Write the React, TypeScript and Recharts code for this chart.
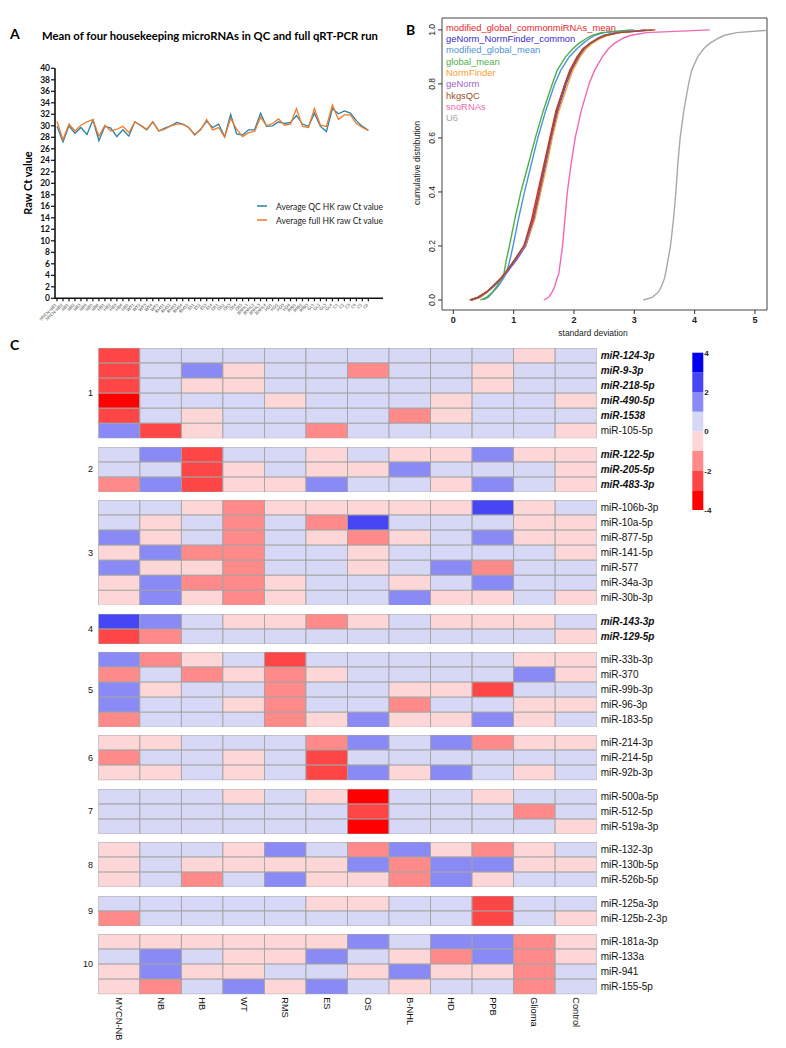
import React from 'react';
import {
  LineChart, Line, XAxis, YAxis, ScatterChart, Scatter, BarChart, Bar, ReferenceArea,
} from 'recharts';

// ---------------- Panel A data ----------------
const sampleLabels = [
  'MYCN-NB1', 'MYCN-NB2', 'NB1', 'NB2', 'NB3', 'NB4', 'NB5', 'NB6', 'HB1', 'HB2', 'HB3', 'HB4', 'HB5',
  'WT1', 'WT2', 'WT3', 'WT4', 'WT5', 'RMS1', 'RMS2', 'RMS3', 'RMS4', 'RMS5', 'ES1', 'ES2', 'ES3', 'ES4',
  'OS1', 'OS2', 'OS3', 'OS4', 'OS5', 'BNHL1', 'BNHL2', 'BNHL3', 'BNHL4', 'HD1', 'HD2', 'HD3', 'HD4',
  'PPB1', 'PPB2', 'PPB3', 'GL1', 'GL2', 'GL3', 'GL4', 'C1', 'C2', 'C3', 'C4', 'C5', 'C6',
];
const qcHK = [
  29.9, 27.2, 30.0, 28.7, 29.7, 28.5, 31.0, 27.4, 29.9, 29.6, 28.1, 29.3, 28.2, 30.7, 30.0, 29.3, 30.7,
  29.1, 29.6, 30.0, 30.6, 30.3, 29.7, 28.4, 29.4, 30.8, 29.7, 30.3, 28.1, 32.0, 28.6, 28.4, 29.3, 29.3,
  32.2, 29.9, 30.0, 30.7, 30.4, 30.6, 31.8, 30.3, 29.9, 32.2, 29.9, 29.0, 33.0, 32.1, 32.6, 32.2, 30.9,
  29.9, 29.2,
];
const fullHK = [
  30.8, 27.6, 30.3, 29.1, 30.1, 30.7, 31.1, 28.2, 30.1, 29.1, 29.4, 29.9, 28.8, 30.7, 30.1, 29.4, 30.7,
  29.1, 29.4, 30.0, 30.3, 30.3, 29.7, 28.5, 29.3, 31.1, 29.3, 29.7, 28.0, 31.3, 29.4, 28.1, 28.8, 29.0,
  31.5, 30.0, 30.4, 31.2, 30.1, 30.3, 33.0, 29.9, 29.7, 33.0, 30.1, 29.9, 33.6, 31.1, 31.9, 31.9, 30.4,
  29.7, 29.2,
];
const rawCtTicks = [0, 2, 4, 6, 8, 10, 12, 14, 16, 18, 20, 22, 24, 26, 28, 30, 32, 34, 36, 38, 40];
const hkSeriesNames = ['Average QC HK raw Ct value', 'Average full HK raw Ct value'];
const hkSeriesColors = ['#2a80a8', '#f07a2a'];

// ---------------- Panel B data ----------------
const ecdfProbs = [0, 0.01, 0.03, 0.05, 0.08, 0.1, 0.15, 0.2, 0.3, 0.4, 0.5, 0.6, 0.7, 0.8, 0.85, 0.9, 0.93, 0.95, 0.97, 0.98, 0.99, 1.0];
const sdModGlobalCommon = [0.27, 0.4, 0.55, 0.65, 0.78, 0.86, 1.02, 1.17, 1.3, 1.4, 1.5, 1.6, 1.7, 1.85, 1.93, 2.05, 2.15, 2.28, 2.42, 2.55, 2.75, 3.3];
const sdGeNormNormFinder = [0.3, 0.42, 0.56, 0.66, 0.8, 0.88, 1.05, 1.2, 1.34, 1.44, 1.53, 1.63, 1.73, 1.87, 1.96, 2.08, 2.17, 2.27, 2.42, 2.52, 2.72, 3.2];
const sdModGlobal = [0.5, 0.58, 0.66, 0.74, 0.83, 0.88, 0.94, 0.99, 1.08, 1.18, 1.29, 1.4, 1.53, 1.68, 1.78, 1.92, 2.05, 2.15, 2.27, 2.35, 2.5, 3.0];
const sdGlobal = [0.45, 0.55, 0.65, 0.72, 0.8, 0.84, 0.88, 0.93, 1.02, 1.12, 1.24, 1.36, 1.49, 1.64, 1.72, 1.86, 1.98, 2.08, 2.22, 2.3, 2.45, 2.95];
const sdNormFinder = [0.32, 0.45, 0.57, 0.66, 0.78, 0.86, 1.03, 1.2, 1.35, 1.45, 1.55, 1.64, 1.75, 1.9, 1.98, 2.1, 2.2, 2.3, 2.45, 2.55, 2.75, 3.25];
const sdGeNorm = [0.3, 0.43, 0.56, 0.67, 0.8, 0.87, 1.04, 1.19, 1.33, 1.43, 1.52, 1.62, 1.72, 1.86, 1.95, 2.07, 2.16, 2.26, 2.4, 2.5, 2.7, 3.2];
const sdHkgsQC = [0.28, 0.41, 0.55, 0.65, 0.79, 0.86, 1.02, 1.17, 1.32, 1.42, 1.51, 1.61, 1.71, 1.85, 1.94, 2.06, 2.15, 2.27, 2.42, 2.53, 2.75, 3.35];
const sdSnoRNAs = [1.5, 1.58, 1.64, 1.68, 1.72, 1.75, 1.78, 1.81, 1.85, 1.89, 1.95, 2.02, 2.12, 2.25, 2.34, 2.47, 2.57, 2.67, 2.82, 2.95, 3.2, 4.25];
const sdU6 = [3.15, 3.3, 3.4, 3.45, 3.5, 3.52, 3.56, 3.6, 3.65, 3.69, 3.72, 3.76, 3.82, 3.9, 3.95, 4.05, 4.15, 4.25, 4.4, 4.5, 4.7, 5.3];
const ecdfNames = [
  'modified_global_commonmiRNAs_mean', 'geNorm_NormFinder_common', 'modified_global_mean', 'global_mean',
  'NormFinder', 'geNorm', 'hkgsQC', 'snoRNAs', 'U6',
];
const ecdfColors = ['#e8262b', '#3a28cf', '#4f93d6', '#4fae4a', '#f7a035', '#9d62c6', '#9a4f2c', '#f068b2', '#a8a8a8'];
const ecdfValues = [sdModGlobalCommon, sdGeNormNormFinder, sdModGlobal, sdGlobal, sdNormFinder, sdGeNorm, sdHkgsQC, sdSnoRNAs, sdU6];
const sdTicks = [0, 1, 2, 3, 4, 5];
const cumTicks = [0, 0.2, 0.4, 0.6, 0.8, 1.0];

// ---------------- Panel C data ----------------
const heatColumns = ['MYCN-NB', 'NB', 'HB', 'WT', 'RMS', 'ES', 'OS', 'B-NHL', 'HD', 'PPB', 'Glioma', 'Control'];
const rows1 = ['miR-124-3p', 'miR-9-3p', 'miR-218-5p', 'miR-490-5p', 'miR-1538', 'miR-105-5p'];
const vals1 = [
  [-2.5, 0.5, 0.5, 0.5, 0.5, 0.5, 0.5, 0.5, 0.5, 0.5, -0.5, 0.5],
  [-2.5, 0.5, 1.5, -0.5, 0.5, 0.5, -1.5, 0.5, 0.5, -0.5, 0.5, 0.5],
  [-2.5, 0.5, -0.5, -0.5, 0.5, 0.5, 0.5, 0.5, 0.5, -0.5, 0.5, 0.5],
  [-3.5, 0.5, 0.5, 0.5, -0.5, 0.5, 0.5, 0.5, -0.5, 0.5, 0.5, -0.5],
  [-2.5, 0.5, -0.5, 0.5, 0.5, 0.5, 0.5, -1.5, -0.5, 0.5, 0.5, 0.5],
  [1.5, -2.5, -0.5, 0.5, 0.5, -1.5, 0.5, 0.5, 0.5, 0.5, 0.5, -0.5],
];
const rows2 = ['miR-122-5p', 'miR-205-5p', 'miR-483-3p'];
const vals2 = [
  [0.5, 1.5, -2.5, 0.5, 0.5, -0.5, 0.5, -0.5, -0.5, 1.5, -0.5, -0.5],
  [0.5, 0.5, -2.5, -0.5, 0.5, -0.5, -0.5, 1.5, 0.5, 0.5, 0.5, -0.5],
  [-1.5, 1.5, -2.5, -0.5, -0.5, 1.5, 0.5, 0.5, -0.5, 1.5, 0.5, -0.5],
];
const rows3 = ['miR-106b-3p', 'miR-10a-5p', 'miR-877-5p', 'miR-141-5p', 'miR-577', 'miR-34a-3p', 'miR-30b-3p'];
const vals3 = [
  [0.5, 0.5, -0.5, -1.5, -0.5, -0.5, -0.5, -0.5, -0.5, 2.5, -0.5, 0.5],
  [0.5, -0.5, 0.5, -1.5, 0.5, -1.5, 2.5, 0.5, 0.5, 0.5, -0.5, -0.5],
  [1.5, -0.5, 0.5, -1.5, 0.5, -0.5, -1.5, -0.5, 0.5, 1.5, -0.5, -0.5],
  [-0.5, 1.5, -1.5, -1.5, 0.5, 0.5, -0.5, 0.5, 0.5, 0.5, 0.5, -0.5],
  [1.5, -0.5, -0.5, -1.5, 0.5, 0.5, -0.5, 0.5, 1.5, -1.5, 0.5, 0.5],
  [-0.5, 1.5, -1.5, -1.5, -0.5, 0.5, 0.5, -0.5, 0.5, 1.5, 0.5, 0.5],
  [-0.5, 1.5, -0.5, -1.5, -0.5, 0.5, 0.5, 1.5, -0.5, -0.5, 0.5, -0.5],
];
const rows4 = ['miR-143-3p', 'miR-129-5p'];
const vals4 = [
  [2.5, 1.5, 0.5, -0.5, -0.5, -1.5, -0.5, 0.5, -0.5, -0.5, -0.5, 0.5],
  [-2.5, -1.5, 0.5, 0.5, 0.5, 0.5, 0.5, 0.5, 0.5, 0.5, 0.5, -0.5],
];
const rows5 = ['miR-33b-3p', 'miR-370', 'miR-99b-3p', 'miR-96-3p', 'miR-183-5p'];
const vals5 = [
  [1.5, -1.5, -0.5, 0.5, -2.5, 0.5, 0.5, 0.5, 0.5, 0.5, -0.5, -0.5],
  [-1.5, 0.5, -1.5, -0.5, -1.5, -0.5, 0.5, 0.5, 0.5, 0.5, 1.5, -0.5],
  [1.5, -0.5, 0.5, 0.5, -1.5, 0.5, 0.5, -0.5, -0.5, -2.5, 0.5, 0.5],
  [1.5, 0.5, 0.5, -0.5, -1.5, 0.5, 0.5, -1.5, 0.5, 0.5, -0.5, -0.5],
  [-1.5, 0.5, 0.5, 0.5, -1.5, -0.5, 1.5, -0.5, -0.5, 1.5, -0.5, 0.5],
];
const rows6 = ['miR-214-3p', 'miR-214-5p', 'miR-92b-3p'];
const vals6 = [
  [-0.5, -0.5, 0.5, 0.5, 0.5, -1.5, 1.5, 0.5, 1.5, -1.5, -0.5, -0.5],
  [-1.5, 0.5, 0.5, -0.5, 0.5, -2.5, 0.5, 0.5, 0.5, 0.5, 0.5, 0.5],
  [-0.5, -0.5, 0.5, -0.5, 0.5, -2.5, 1.5, -0.5, 1.5, 0.5, -0.5, 0.5],
];
const rows7 = ['miR-500a-5p', 'miR-512-5p', 'miR-519a-3p'];
const vals7 = [
  [0.5, 0.5, 0.5, -0.5, 0.5, -0.5, -3.5, 0.5, 0.5, -0.5, 0.5, 0.5],
  [0.5, 0.5, 0.5, 0.5, 0.5, 0.5, -2.5, 0.5, 0.5, 0.5, -1.5, 0.5],
  [0.5, 0.5, 0.5, 0.5, 0.5, 0.5, -3.5, 0.5, 0.5, 0.5, 0.5, -0.5],
];
const rows8 = ['miR-132-3p', 'miR-130b-5p', 'miR-526b-5p'];
const vals8 = [
  [-0.5, 0.5, 0.5, -0.5, 1.5, 0.5, -1.5, 1.5, -0.5, -1.5, -0.5, 0.5],
  [-0.5, 0.5, -0.5, -0.5, -0.5, -0.5, 1.5, -1.5, 1.5, 1.5, -0.5, -0.5],
  [-0.5, 0.5, -1.5, 0.5, 1.5, -0.5, -0.5, -1.5, 1.5, -0.5, 0.5, 0.5],
];
const rows9 = ['miR-125a-3p', 'miR-125b-2-3p'];
const vals9 = [
  [0.5, 0.5, 0.5, 0.5, 0.5, -0.5, -0.5, 0.5, 0.5, -2.5, 0.5, 0.5],
  [-1.5, 0.5, 0.5, 0.5, 0.5, 0.5, 0.5, 0.5, 0.5, -2.5, 0.5, -0.5],
];
const rows10 = ['miR-181a-3p', 'miR-133a', 'miR-941', 'miR-155-5p'];
const vals10 = [
  [-0.5, -0.5, -0.5, -0.5, -0.5, -0.5, 1.5, 0.5, 1.5, 1.5, -1.5, -0.5],
  [0.5, 1.5, 0.5, -0.5, -0.5, 1.5, 0.5, -0.5, -1.5, 1.5, -1.5, -0.5],
  [-0.5, 1.5, -0.5, -0.5, 0.5, 0.5, -0.5, 1.5, -0.5, -0.5, -1.5, 0.5],
  [-0.5, -1.5, 0.5, 1.5, -0.5, 1.5, 0.5, -0.5, 0.5, 0.5, -1.5, 0.5],
];
const highlightedMiRNAs = [
  'miR-124-3p', 'miR-9-3p', 'miR-218-5p', 'miR-490-5p', 'miR-1538',
  'miR-122-5p', 'miR-205-5p', 'miR-483-3p', 'miR-143-3p', 'miR-129-5p',
];
const colorBreaks = [-4, -3, -2, -1, 0, 1, 2, 3, 4];
const colorBins = ['#ff0000', '#ff4646', '#ff8a8a', '#fdd7d7', '#d7d7f6', '#8a8af6', '#4646f4', '#0000f0'];
const colorTicks = [-4, -2, 0, 2, 4];

const groupRows = [rows1, rows2, rows3, rows4, rows5, rows6, rows7, rows8, rows9, rows10];
const groupVals = [vals1, vals2, vals3, vals4, vals5, vals6, vals7, vals8, vals9, vals10];

// ---------------- layout ----------------
const FONT_A = 'Lato, "Open Sans", sans-serif';
const FONT_R = '"Liberation Sans", Arial, sans-serif';
const HM_TOP = 348.3;
const HM_LEFT = 98.3;
const HM_RIGHT = 596.7;
const ROW_H = 15.05;
const GAP = 8.2;
const HM_CHART_W = 720;
const HM_YAXIS_W = 110;
const CELL_W = (HM_RIGHT - HM_LEFT) / heatColumns.length;

function colorFor(v: number) {
  for (let i = 0; i < colorBins.length; i++) {
    if (v >= colorBreaks[i] && v < colorBreaks[i + 1]) return colorBins[i];
  }
  return v < 0 ? colorBins[0] : colorBins[colorBins.length - 1];
}

const groupTops: number[] = [];
{
  let t = HM_TOP;
  groupRows.forEach((r) => {
    groupTops.push(t);
    t += r.length * ROW_H + GAP;
  });
}

// ---------------- Panel A ----------------
function SampleTick(props: any) {
  const { x, y, payload } = props;
  return (
    <text x={x} y={y + 2} transform={`rotate(-45, ${x}, ${y + 2})`} textAnchor="end"
      fontSize={4.2} fontFamily={FONT_A} fill="#333">
      {sampleLabels[payload.value]}
    </text>
  );
}

function PanelA() {
  const data = sampleLabels.map((s, i) => ({ i, label: s, qc: qcHK[i], full: fullHK[i] }));
  return (
    <div style={{ position: 'absolute', left: 0, top: 0, width: 400, height: 340 }}>
      <LineChart width={400} height={340} data={data} margin={{ top: 68.3, right: 17, bottom: 6.7, left: 25 }}>
        <XAxis type="number" dataKey="i" domain={[-0.334, 54.45]} allowDataOverflow
          ticks={sampleLabels.map((_, i) => i)} interval={0} height={35}
          tick={<SampleTick />} tickSize={3} stroke="#111" axisLine={{ stroke: '#111', strokeWidth: 1.6 }}
          tickLine={{ stroke: '#111', strokeWidth: 1.2 }} />
        <YAxis type="number" domain={[0, 40]} ticks={rawCtTicks} interval={0} width={30}
          tickSize={4} tickMargin={1}
          axisLine={{ stroke: '#111', strokeWidth: 1.6 }} tickLine={{ stroke: '#111', strokeWidth: 1.2 }}
          tick={{ fontSize: 8.5, fontWeight: 700, fontFamily: FONT_A, fill: '#111' }} />
        <Line dataKey="qc" stroke={hkSeriesColors[0]} strokeWidth={1.3} dot={false} isAnimationActive={false} />
        <Line dataKey="full" stroke={hkSeriesColors[1]} strokeWidth={1.3} dot={false} isAnimationActive={false} />
      </LineChart>
    </div>
  );
}

// ---------------- Panel B ----------------
function CumTick(props: any) {
  const { x, y, payload } = props;
  const bx = x - 1;
  return (
    <text x={bx} y={y} transform={`rotate(-90, ${bx}, ${y})`} textAnchor="middle"
      fontSize={8.5} fontFamily={FONT_R} fill="#222">
      {Number(payload.value).toFixed(1)}
    </text>
  );
}

function PanelB() {
  return (
    <div style={{ position: 'absolute', left: 400, top: 0, width: 386, height: 345 }}>
      <LineChart width={386} height={345} margin={{ top: 18, right: 19, bottom: 13, left: 12 }}>
        <XAxis type="number" dataKey="x" domain={[-0.188, 5.2]} allowDataOverflow ticks={sdTicks}
          interval={0} height={22} tickSize={4} tickMargin={3} axisLine={false}
          tickLine={{ stroke: '#333' }}
          tick={{ fontSize: 9, fontWeight: 700, fontFamily: FONT_R, fill: '#222' }} />
        <YAxis type="number" dataKey="p" domain={[-0.037, 1.044]} allowDataOverflow ticks={cumTicks}
          interval={0} width={30} tickSize={4} tickMargin={2} axisLine={false}
          tickLine={{ stroke: '#333' }} tick={<CumTick />} />
        <ReferenceArea x1={-0.188} x2={5.2} y1={-0.037} y2={1.044} fill="none" stroke="#444"
          strokeWidth={1} ifOverflow="visible" />
        {ecdfValues.map((vals, k) => (
          <Line key={ecdfNames[k]} data={ecdfProbs.map((p, j) => ({ x: vals[j], p }))} dataKey="p"
            stroke={ecdfColors[k]} strokeWidth={1.4} dot={false} isAnimationActive={false} />
        ))}
      </LineChart>
    </div>
  );
}

// ---------------- Panel C ----------------
function HeatCell(props: any) {
  const { cx, cy, payload } = props;
  const h = props.cellH;
  return (
    <rect x={cx - CELL_W / 2} y={cy - h / 2} width={CELL_W} height={h}
      fill={colorFor(payload.v)} stroke="#a3a3a3" strokeWidth={0.9} />
  );
}

function RowTick(props: any) {
  const { x, y, payload, rows } = props;
  const name = rows[payload.value];
  const hl = highlightedMiRNAs.includes(name);
  return (
    <text x={x} y={y} dy={3.5} textAnchor="start" fontSize={10} fontFamily={FONT_R}
      fontWeight={hl ? 700 : 400} fontStyle={hl ? 'italic' : 'normal'} fill="#111">
      {name}
    </text>
  );
}

function ColTick(props: any) {
  const { x, y, payload } = props;
  return (
    <text x={x} y={y} transform={`rotate(90, ${x}, ${y})`} textAnchor="start" dominantBaseline="central"
      fontSize={9.3} fontFamily={FONT_R} fill="#111">
      {heatColumns[payload.value]}
    </text>
  );
}

function HeatGroup({ gi }: { gi: number }) {
  const rows = groupRows[gi];
  const values = groupVals[gi];
  const isLast = gi === groupRows.length - 1;
  const data = values.flatMap((rowVals, r) => rowVals.map((v, c) => ({ x: c, y: r, v })));
  const plotH = rows.length * ROW_H;
  const xh = isLast ? 50 : 0;
  return (
    <div style={{ position: 'absolute', left: 0, top: groupTops[gi], width: HM_CHART_W, height: plotH + xh }}>
      <ScatterChart width={HM_CHART_W} height={plotH + xh}
        margin={{ top: 0, right: HM_CHART_W - HM_RIGHT - HM_YAXIS_W, bottom: 0, left: HM_LEFT }}>
        <XAxis type="number" dataKey="x" domain={[-0.5, heatColumns.length - 0.5]} allowDataOverflow
          ticks={heatColumns.map((_, i) => i)} interval={0} hide={!isLast} height={xh}
          axisLine={false} tickLine={false} tickSize={0} tickMargin={3} tick={<ColTick />} />
        <YAxis type="number" dataKey="y" domain={[-0.5, rows.length - 0.5]} allowDataOverflow reversed
          orientation="right" width={HM_YAXIS_W} ticks={rows.map((_, i) => i)} interval={0}
          axisLine={false} tickLine={false} tickSize={0} tickMargin={4} tick={<RowTick rows={rows} />} />
        <Scatter data={data} isAnimationActive={false} shape={<HeatCell cellH={ROW_H} />} />
      </ScatterChart>
    </div>
  );
}

function ColorBar() {
  const row: Record<string, number | string> = { name: 'scale' };
  colorBins.forEach((_, i) => {
    const lo = colorBreaks[i];
    const hi = colorBreaks[i + 1];
    row['b' + i] = lo >= 0 ? hi - lo : lo - hi;
  });
  const negOrder = colorBins.map((_, i) => i).filter((i) => colorBreaks[i] < 0).reverse();
  const posOrder = colorBins.map((_, i) => i).filter((i) => colorBreaks[i] >= 0);
  const order = [...negOrder, ...posOrder];
  return (
    <div style={{ position: 'absolute', left: 670, top: 340, width: 60, height: 180 }}>
      <BarChart width={60} height={180} data={[row]} stackOffset="sign" barCategoryGap={0}
        margin={{ top: 12.7, right: 6.7, bottom: 10, left: 22.3 }}>
        <XAxis dataKey="name" hide />
        <YAxis type="number" domain={[-4, 4]} ticks={colorTicks} interval={0} orientation="right" width={20}
          axisLine={false} tickLine={false} tickSize={0} tickMargin={1}
          tick={{ fontSize: 8, fontWeight: 700, fontFamily: FONT_R, fill: '#222' }} />
        {order.map((i) => (
          <Bar key={i} dataKey={'b' + i} stackId="cb" fill={colorBins[i]} isAnimationActive={false} />
        ))}
      </BarChart>
    </div>
  );
}

// ---------------- Overlay texts ----------------
function Overlay() {
  return (
    <svg width={786} height={1048} style={{ position: 'absolute', left: 0, top: 0, pointerEvents: 'none' }}>
      {/* Panel A */}
      <text x={10} y={38.5} fontSize={14} fontWeight={700} fontFamily={FONT_A} fill="#000">A</text>
      <text x={42} y={39.5} fontSize={12} fontWeight={700} fontFamily={FONT_A} fill="#000"
        textLength={336} lengthAdjust="spacingAndGlyphs">
        Mean of four housekeeping microRNAs in QC and full qRT-PCR run
      </text>
      <text x={31.5} y={183} transform="rotate(-90, 31.5, 183)" textAnchor="middle" fontSize={11}
        fontWeight={700} fontFamily={FONT_A} fill="#000">Raw Ct value</text>
      {hkSeriesNames.map((n, k) => (
        <g key={n}>
          <line x1={257} x2={267} y1={206 + 14 * k} y2={206 + 14 * k} stroke={hkSeriesColors[k]} strokeWidth={1.5} />
          <text x={276} y={209.5 + 14 * k} fontSize={9.5} fontFamily={FONT_A} fill="#222"
            textLength={107} lengthAdjust="spacingAndGlyphs">{n}</text>
        </g>
      ))}
      {/* Panel B */}
      <text x={406} y={35} fontSize={14} fontWeight={700} fontFamily={FONT_A} fill="#000">B</text>
      {ecdfNames.map((n, k) => (
        <text key={n} x={446} y={30.8 + 11.3 * k} fontSize={9.4} fontFamily={FONT_R} fill={ecdfColors[k]}>{n}</text>
      ))}
      <text x={593} y={336} textAnchor="middle" fontSize={8.5} fontFamily={FONT_R} fill="#222">standard deviation</text>
      <text x={419.5} y={163} transform="rotate(-90, 419.5, 163)" textAnchor="middle" fontSize={8.5}
        fontFamily={FONT_R} fill="#222">cumulative distribution</text>
      {/* Panel C */}
      <text x={10} y={350} fontSize={14} fontWeight={700} fontFamily={FONT_A} fill="#000">C</text>
      {groupRows.map((r, gi) => (
        <text key={gi} x={93} y={groupTops[gi] + (r.length * ROW_H) / 2 + 3} textAnchor="end" fontSize={9}
          fontFamily={FONT_R} fill="#111">{gi + 1}</text>
      ))}
    </svg>
  );
}

export default function App() {
  return (
    <div style={{ position: 'absolute', left: 0, top: 0, width: 786, height: 1048, background: '#fff', overflow: 'hidden' }}>
      <PanelA />
      <PanelB />
      {groupRows.map((_, gi) => <HeatGroup key={gi} gi={gi} />)}
      <ColorBar />
      <Overlay />
    </div>
  );
}
